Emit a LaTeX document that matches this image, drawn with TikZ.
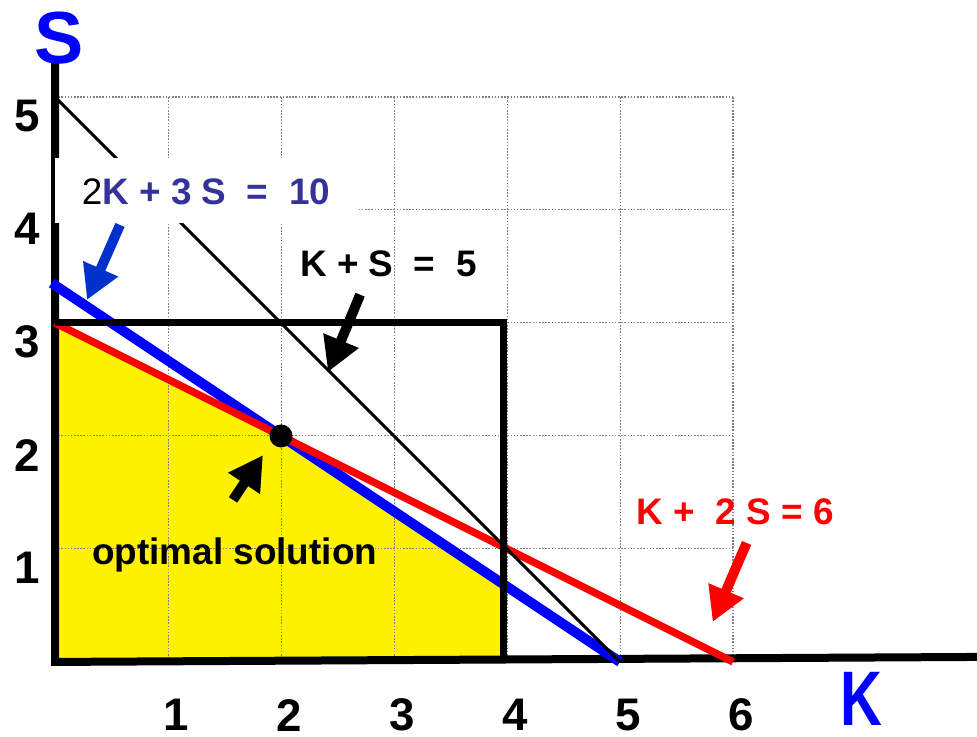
\documentclass[tikz,border=0pt]{standalone}
\usepackage{fontspec}
\setmainfont{Liberation Sans}
\usetikzlibrary{arrows.meta,positioning}
\definecolor{eqblue}{RGB}{51,51,153}
\definecolor{arrblue}{RGB}{0,51,204}

\begin{document}
\begin{tikzpicture}[x=1.13cm, y=1.13cm,
  tick/.style={font=\fontsize{13}{13}\selectfont\bfseries},
  eqlabel/.style={anchor=base, font=\fontsize{10.5}{12}\selectfont\bfseries},
  bigarrow/.style={line width=0.1cm, -{Triangle[length=0.34cm,width=0.36cm]}},
  axlabel/.style={blue, inner sep=0, font=\fontsize{21}{21}\selectfont\bfseries}]
  \useasboundingbox (-0.487,-0.664) rectangle (8.159,5.858);
  % Feasible region
  \fill[yellow] (0,0) -- (0,3) -- (2,2) -- (4,2/3) -- (4,0) -- cycle;
  % Grid
  \draw[gray, line width=0.3pt, dash pattern=on 0.45pt off 0.45pt, step={(1,1)}] (0,0) grid (6,5);
  % Axes
  \draw[line width=0.08cm] (0,5.35) -- (0,0) -- (8.3,0.045);
  % Constraint lines
  \draw[blue, line width=0.1cm] (-0.03,3.353) -- (5,0);
  \draw[red, line width=0.075cm] (0,3) -- (6,0);
  \draw[line width=0.07cm] (0,3) -- (3.97,3) -- (3.97,0);
  \draw[line width=0.03cm] (0,5) -- (5,0);
  % Optimal point
  \node[circle, fill, inner sep=0, minimum size=0.23cm] (opt) at (2,2) {};
  % Tick labels
  \foreach \n in {1,...,6}
    \node[tick] (kx\n) at (\n+0.07,-0.47) {\n};
  \foreach \n in {1,...,5}
    \node[tick] (sy\n) at (-0.248,\n-0.17) {\n};
  \node[axlabel] (slab) at (0.035,5.52) {S};
  \node[axlabel, font=\fontsize{22}{22}\selectfont\bfseries] (klab) at (7.14,-0.33) {\scalebox{0.75}[1]{K}};
  % Equation labels
  \node[eqlabel, eqblue, fill=white, inner sep=0, text height=0.47cm, text depth=0.18cm,
    minimum width=3.02cm] (eqblue) at (1.336,4.044) {{\mdseries\color{black}2}K + 3 S~~=~~10};
  \node[eqlabel] (eqblack) at (2.95,3.407) {K + S~~=~~5};
  \node[eqlabel, red] (eqred) at (6.02,1.212) {K +~~2 S = 6};
  \node[eqlabel] (optlab) at (1.59,0.858) {optimal solution};
  % Pointer arrows
  \coordinate (bluetail) at (0.575,3.867);
  \coordinate (bluetip) at (0.283,3.204);
  \coordinate (blacktail) at (2.70,3.25);
  \coordinate (blacktip) at (2.416,2.566);
  \coordinate (opttail) at (1.575,1.434);
  \coordinate (opttip) at (1.84,1.83);
  \coordinate (redtail) at (6.12,1.053);
  \coordinate (redtip) at (5.82,0.354);
  \draw[bigarrow, arrblue] (bluetail) -- (bluetip);
  \draw[bigarrow] (blacktail) -- (blacktip);
  \draw[bigarrow] (opttail) -- (opttip);
  \draw[bigarrow, red] (redtail) -- (redtip);
\end{tikzpicture}
\end{document}
